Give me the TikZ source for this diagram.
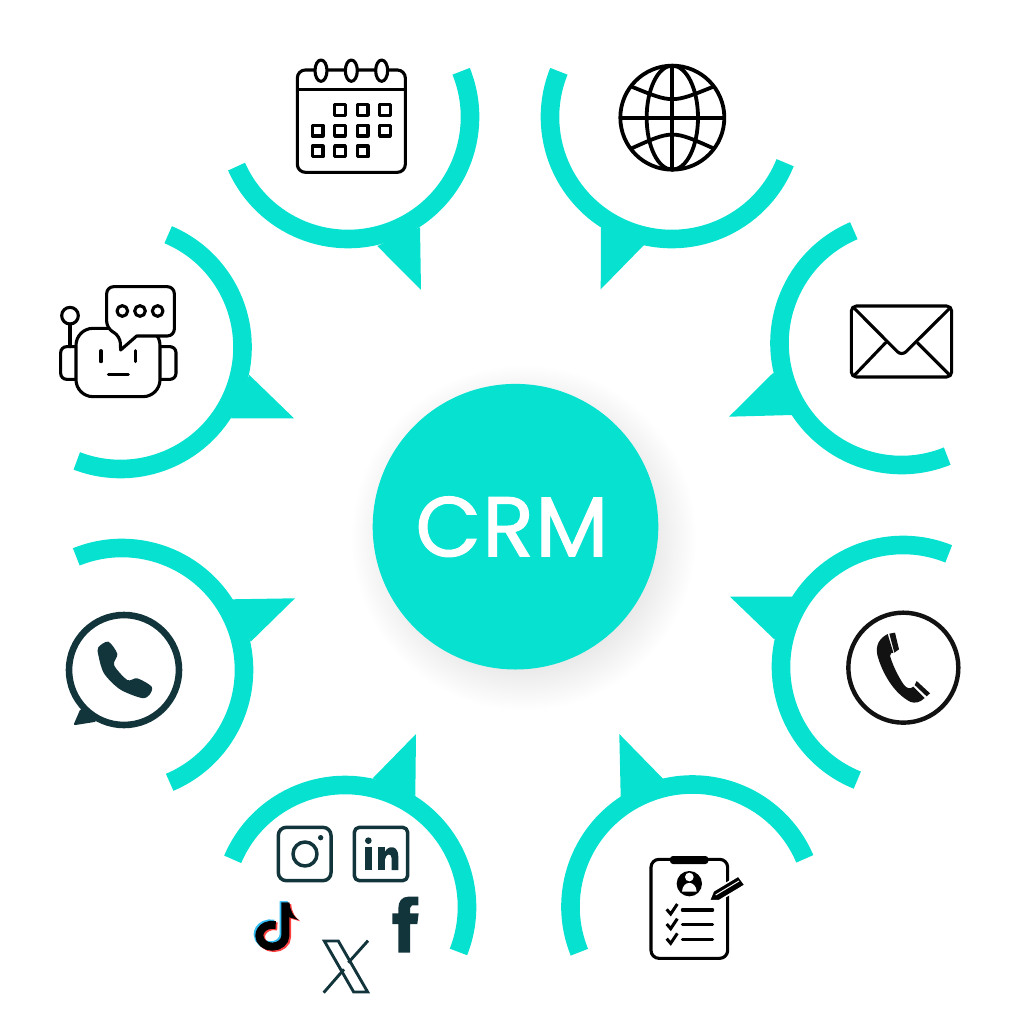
\documentclass[tikz,border=0pt]{standalone}
\usepackage{fontspec}
\newfontfamily\crmfont{Poppins}[FakeBold=1.2, LetterSpace=1.5]
\definecolor{crmteal}{RGB}{7,226,208}
\definecolor{darkteal}{RGB}{18,52,59}
\tikzset{
  ringline/.style={draw=crmteal, line width=18.6pt},
  iconline/.style={line width=3.1pt, line join=round, line cap=round},
  socialline/.style={iconline, draw=darkteal},
}

\begin{document}
\begin{tikzpicture}[x=1pt, y=-1pt]
\useasboundingbox (0,0) rectangle (1024,1024);
% Shadow of the middle circle
\foreach \r in {100,102,...,172} {
    \fill[black, opacity=0.0055] (524,538) circle (\r);
}
% Middle circle
\node[circle, fill=crmteal, minimum size=285.6pt, inner sep=0pt] (crm) at (515.5,526.7) {};
\node[text=white, inner sep=0pt] (crmtext) at (512,526.7) {\crmfont\fontsize{85}{85}\selectfont CRM};
% Rings: centre, start, stop, then the three corners of the tail
\foreach \cx/\cy/\start/\stop/\ax/\ay/\bx/\by/\tx/\ty in {
    348/117/-22/156/377.3/246/420/227.3/421/290,
    672/117/22/202/601/226/644/245/600.7/289.3,
    901.5/343/68/247/773.3/372.7/792.3/415/729/416.7,
    903/667/112/292/793.3/596.7/774.3/639.3/730/596.7,
    692.5/906.5/158/337/620.7/797.3/663.3/779/619.3/734,
    345/907/203/381.6/372.7/778.3/415.3/796/416/734,
    122/670/-112/67/231.7/599.3/250.7/641.7/295/598.3,
    120.5/347/-67/111/249.3/375/231/418.3/294/418.3} {
    \draw[ringline] (\cx,\cy) ++(\start:122) arc (\start:\stop:122);
    \fill[crmteal] (\ax,\ay) -- (\bx,\by) -- (\tx,\ty) -- cycle;
}
% Calendar
\begin{scope}[shift={(220,40)}, scale=1/3]
\draw[iconline, rounded corners=8pt] (232,90) rectangle (556,397);
\draw[iconline] (232,148) -- (556,148);
\foreach \x in {303,394,485} {
    \draw[iconline, fill=white] (\x,92) ellipse (18 and 32);
}
\foreach \x/\y in {360/210,428/210,495/210,293/272,360/272,428/272,495/272,293/334,360/334,428/334} {
    \draw[iconline] (\x-16,\y-16) rectangle (\x+16,\y+16);
}
\end{scope}
% Globe
\begin{scope}[shift={(530,50)}, scale=1/3]
\draw[line width=3.8pt] (427,203) circle (156);
\draw[line width=3.8pt] (427,203) ellipse (77 and 156);
\draw[line width=3.8pt] (427,47) -- (427,359);
\draw[line width=3.8pt] (271,203) -- (583,203);
\draw[line width=3.8pt] (305,110) .. controls (427,160) .. (550,110);
\draw[line width=3.8pt] (305,295) .. controls (427,240) .. (550,295);
\end{scope}
% Envelope
\begin{scope}[shift={(720,220)}, scale=1/3]
\draw[iconline, rounded corners=5pt] (394,258) rectangle (695,471);
\draw[iconline, rounded corners=6pt] (402,264) -- (545,408) -- (690,264);
\draw[iconline] (497,368) -- (405,464);
\draw[iconline] (592,368) -- (688,464);
\end{scope}
% Phone
\begin{scope}[shift={(720,530)}, scale=1/3]
\draw[draw=black!93, line width=4.4pt] (550,413) circle (165);
\fill[black!93] (503,312) .. controls (478,325) and (466,345) .. (472,375)
    .. controls (485,425) and (520,490) .. (572,516)
    .. controls (585,520) and (600,518) .. (614,504)
    -- (580,470) .. controls (570,478) and (560,475) .. (552,465)
    .. controls (535,440) and (520,410) .. (510,378)
    .. controls (510,370) and (515,368) .. (520,368) -- cycle;
\fill[black!93] (508,311) -- (525,308) -- (537,358) -- (523,368) -- cycle;
\fill[black!93] (590,453) -- (630,490) -- (620,499) -- (584,465) -- cycle;
\end{scope}
% Clipboard form
\begin{scope}[shift={(550,730)}, scale=1/3]
\draw[iconline, rounded corners=8pt] (303,388) rectangle (533,685);
\fill[black, rounded corners=3pt] (360,378) rectangle (475,402);
\fill[black] (418,461) circle (38);
\fill[white] (418,441) circle (13);
\fill[white] (396,485) .. controls (398,450) and (438,450) .. (440,485) -- cycle;
\foreach \y in {540,584,628} {
    \draw[iconline] (397,\y) -- (488,\y);
    \draw[line width=3pt] (350,\y-2) -- (362,\y+12) -- (382,\y-18);
}
\draw[fill=black, draw=white, line width=1.5pt, line join=round]
    (478,512) -- (490,483) -- (565,438) -- (585,465) -- (507,512) -- cycle;
\draw[white, line width=1pt] (497,495) -- (567,453);
\end{scope}
% Social media logos
\begin{scope}[shift={(210,730)}, scale=1/3]
\draw[socialline, line width=3.5pt, rounded corners=8pt] (205,292) rectangle (363,452);
\draw[socialline, line width=3.5pt] (285,372) circle (36);
\fill[darkteal] (332,323) circle (8);
\draw[socialline, line width=3.5pt, rounded corners=5pt] (433,292) rectangle (593,452);
\fill[darkteal] (475,332) circle (10);
\fill[darkteal] (465,352) rectangle (485,420);
\fill[darkteal] (505,352) rectangle (525,420);
\fill[darkteal] (525,365) .. controls (535,345) and (565,345) .. (565,380) -- (565,420) -- (545,420)
    -- (545,385) .. controls (545,368) and (527,370) .. (525,388) -- cycle;
% f
\fill[darkteal] (565,668) -- (600,668) -- (600,582) -- (622,582) -- (626,550) -- (600,550) -- (600,534)
    -- (606,526) -- (625,526) -- (625,500) -- (595,500) .. controls (575,500) and (565,515) .. (565,535)
    -- (565,550) -- (547,550) -- (547,582) -- (565,582) -- cycle;
% X
\draw[socialline, line width=2.9pt, line join=miter] (343,633) -- (385,633) -- (473,786) -- (431,786) -- cycle;
\draw[socialline, line width=2.9pt, line cap=butt] (474,632) -- (415,698);
\draw[socialline, line width=2.9pt, line cap=butt] (341,788) -- (402,718);
% TikTok note
\foreach \dx/\dy/\col in {-5/-4/cyan!80!white, 5/4/red!75!white, 0/0/black} {
    \begin{scope}[shift={(\dx,\dy)}]
    \draw[\col, line width=8pt] (226,518) -- (226,617) arc (0:180:39 and 33) arc (180:285:39 and 33);
    \fill[\col] (214,518) -- (238,518) .. controls (240,540) and (250,560) .. (266,570) -- (238,562) -- cycle;
    \end{scope}
}
\end{scope}
% WhatsApp
\begin{scope}[shift={(40,530)}, scale=1/3]
\draw[draw=darkteal, line width=6.6pt] (252,420) circle (165);
\fill[darkteal, rounded corners=2pt] (122,535) -- (100,586) -- (170,575) -- (140,540) -- cycle;
\fill[darkteal] plot[smooth cycle] coordinates {(175,352) (205,335) (232,372) (222,405) (262,450)
    (292,445) (335,470) (328,495) (305,504) (240,478) (192,430) (175,375)};
\end{scope}
% Robot
\begin{scope}[shift={(40,220)}, scale=1/3]
\draw[iconline] (90,312) -- (90,380);
\draw[iconline] (90,287) circle (25);
\draw[iconline, rounded corners=6pt] (108,380) -- (62,380) -- (62,478) -- (108,478);
\draw[iconline, rounded corners=6pt] (360,380) -- (408,380) -- (408,478) -- (360,478);
\draw[iconline, rounded corners=17pt, fill=white] (108,325) rectangle (360,530);
\draw[iconline, fill=white, rounded corners=7pt] (240,348) [sharp corners] -- (242,390) -- (290,348)
    [rounded corners=7pt] -- (403,348) -- (403,200) -- (200,200) -- (200,325) -- cycle;
\foreach \x in {247,300,353} {
    \draw[iconline] (\x,273) circle (16);
}
\draw[iconline] (183,392) -- (183,425);
\draw[iconline] (287,392) -- (287,425);
\draw[iconline] (205,463) -- (265,463);
\end{scope}
\end{tikzpicture}
\end{document}
